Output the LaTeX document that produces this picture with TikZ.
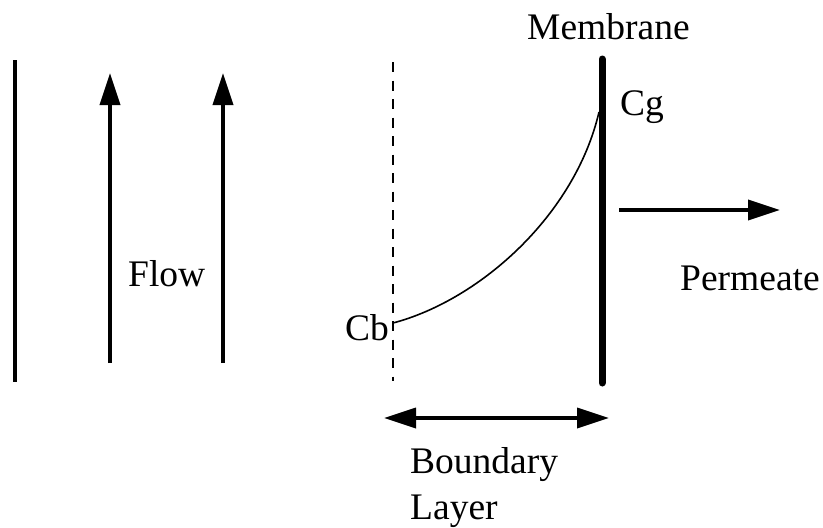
\documentclass[tikz,border=0pt]{standalone}
\usepackage{fontspec}
\setmainfont{Liberation Serif}
\usetikzlibrary{arrows.meta}
\begin{document}
\begin{tikzpicture}[x=1pt,y=-1pt,
  lbl/.style={inner sep=0pt,font=\fontsize{37.5}{45}\selectfont},
  wall/.style={line width=3.5pt},
  flowarrow/.style={line width=3.5pt,-{Triangle[length=32pt,width=20pt]}},
  dblarrow/.style={line width=3.5pt,{Triangle[length=32pt,width=20pt]}-{Triangle[length=32pt,width=20pt]}},
  blayer/.style={line width=2.2pt,dash pattern=on 10pt off 8.5pt},
  membr/.style={line width=7pt,line cap=round},
  profile/.style={line width=1.6pt}]
\useasboundingbox (0,0) rectangle (823,528);
% coordinates
\coordinate (w1) at (15,60);
\coordinate (w2) at (15,382);
\coordinate (a1s) at (110,363);
\coordinate (a1e) at (110,73);
\coordinate (a2s) at (223,363);
\coordinate (a2e) at (223,73);
\coordinate (d1) at (393,62);
\coordinate (d2) at (393,381);
\coordinate (m1) at (602,59);
\coordinate (m2) at (602,383);
\coordinate (cbp) at (393,323);
\coordinate (cgp) at (599,112);
\coordinate (ps) at (619,210);
\coordinate (pe) at (780,210);
\coordinate (bl) at (384,418);
\coordinate (br) at (609,418);
% lines
\draw[wall] (w1) -- (w2);
\draw[flowarrow] (a1s) -- (a1e);
\draw[flowarrow] (a2s) -- (a2e);
\draw[blayer] (d1) -- (d2);
\draw[membr] (m1) -- (m2);
\draw[profile] (cbp) .. controls (480,300) and (575,215) .. (cgp);
\draw[flowarrow] (ps) -- (pe);
\draw[dblarrow] (bl) -- (br);
% labels
\node[lbl,anchor=base west] (flow) at (128,286) {Flow};
\node[lbl,anchor=base west] (mem) at (527,39) {Membrane};
\node[lbl,anchor=base west] (cg) at (620,115) {Cg};
\node[lbl,anchor=base east] (cb) at (389,340) {Cb};
\node[lbl,anchor=base west] (perm) at (680,290) {Permeate};
\node[lbl,anchor=base west] (bnd) at (410,473) {Boundary};
\node[lbl,anchor=base west] (lay) at (410,519) {Layer};
\end{tikzpicture}
\end{document}
